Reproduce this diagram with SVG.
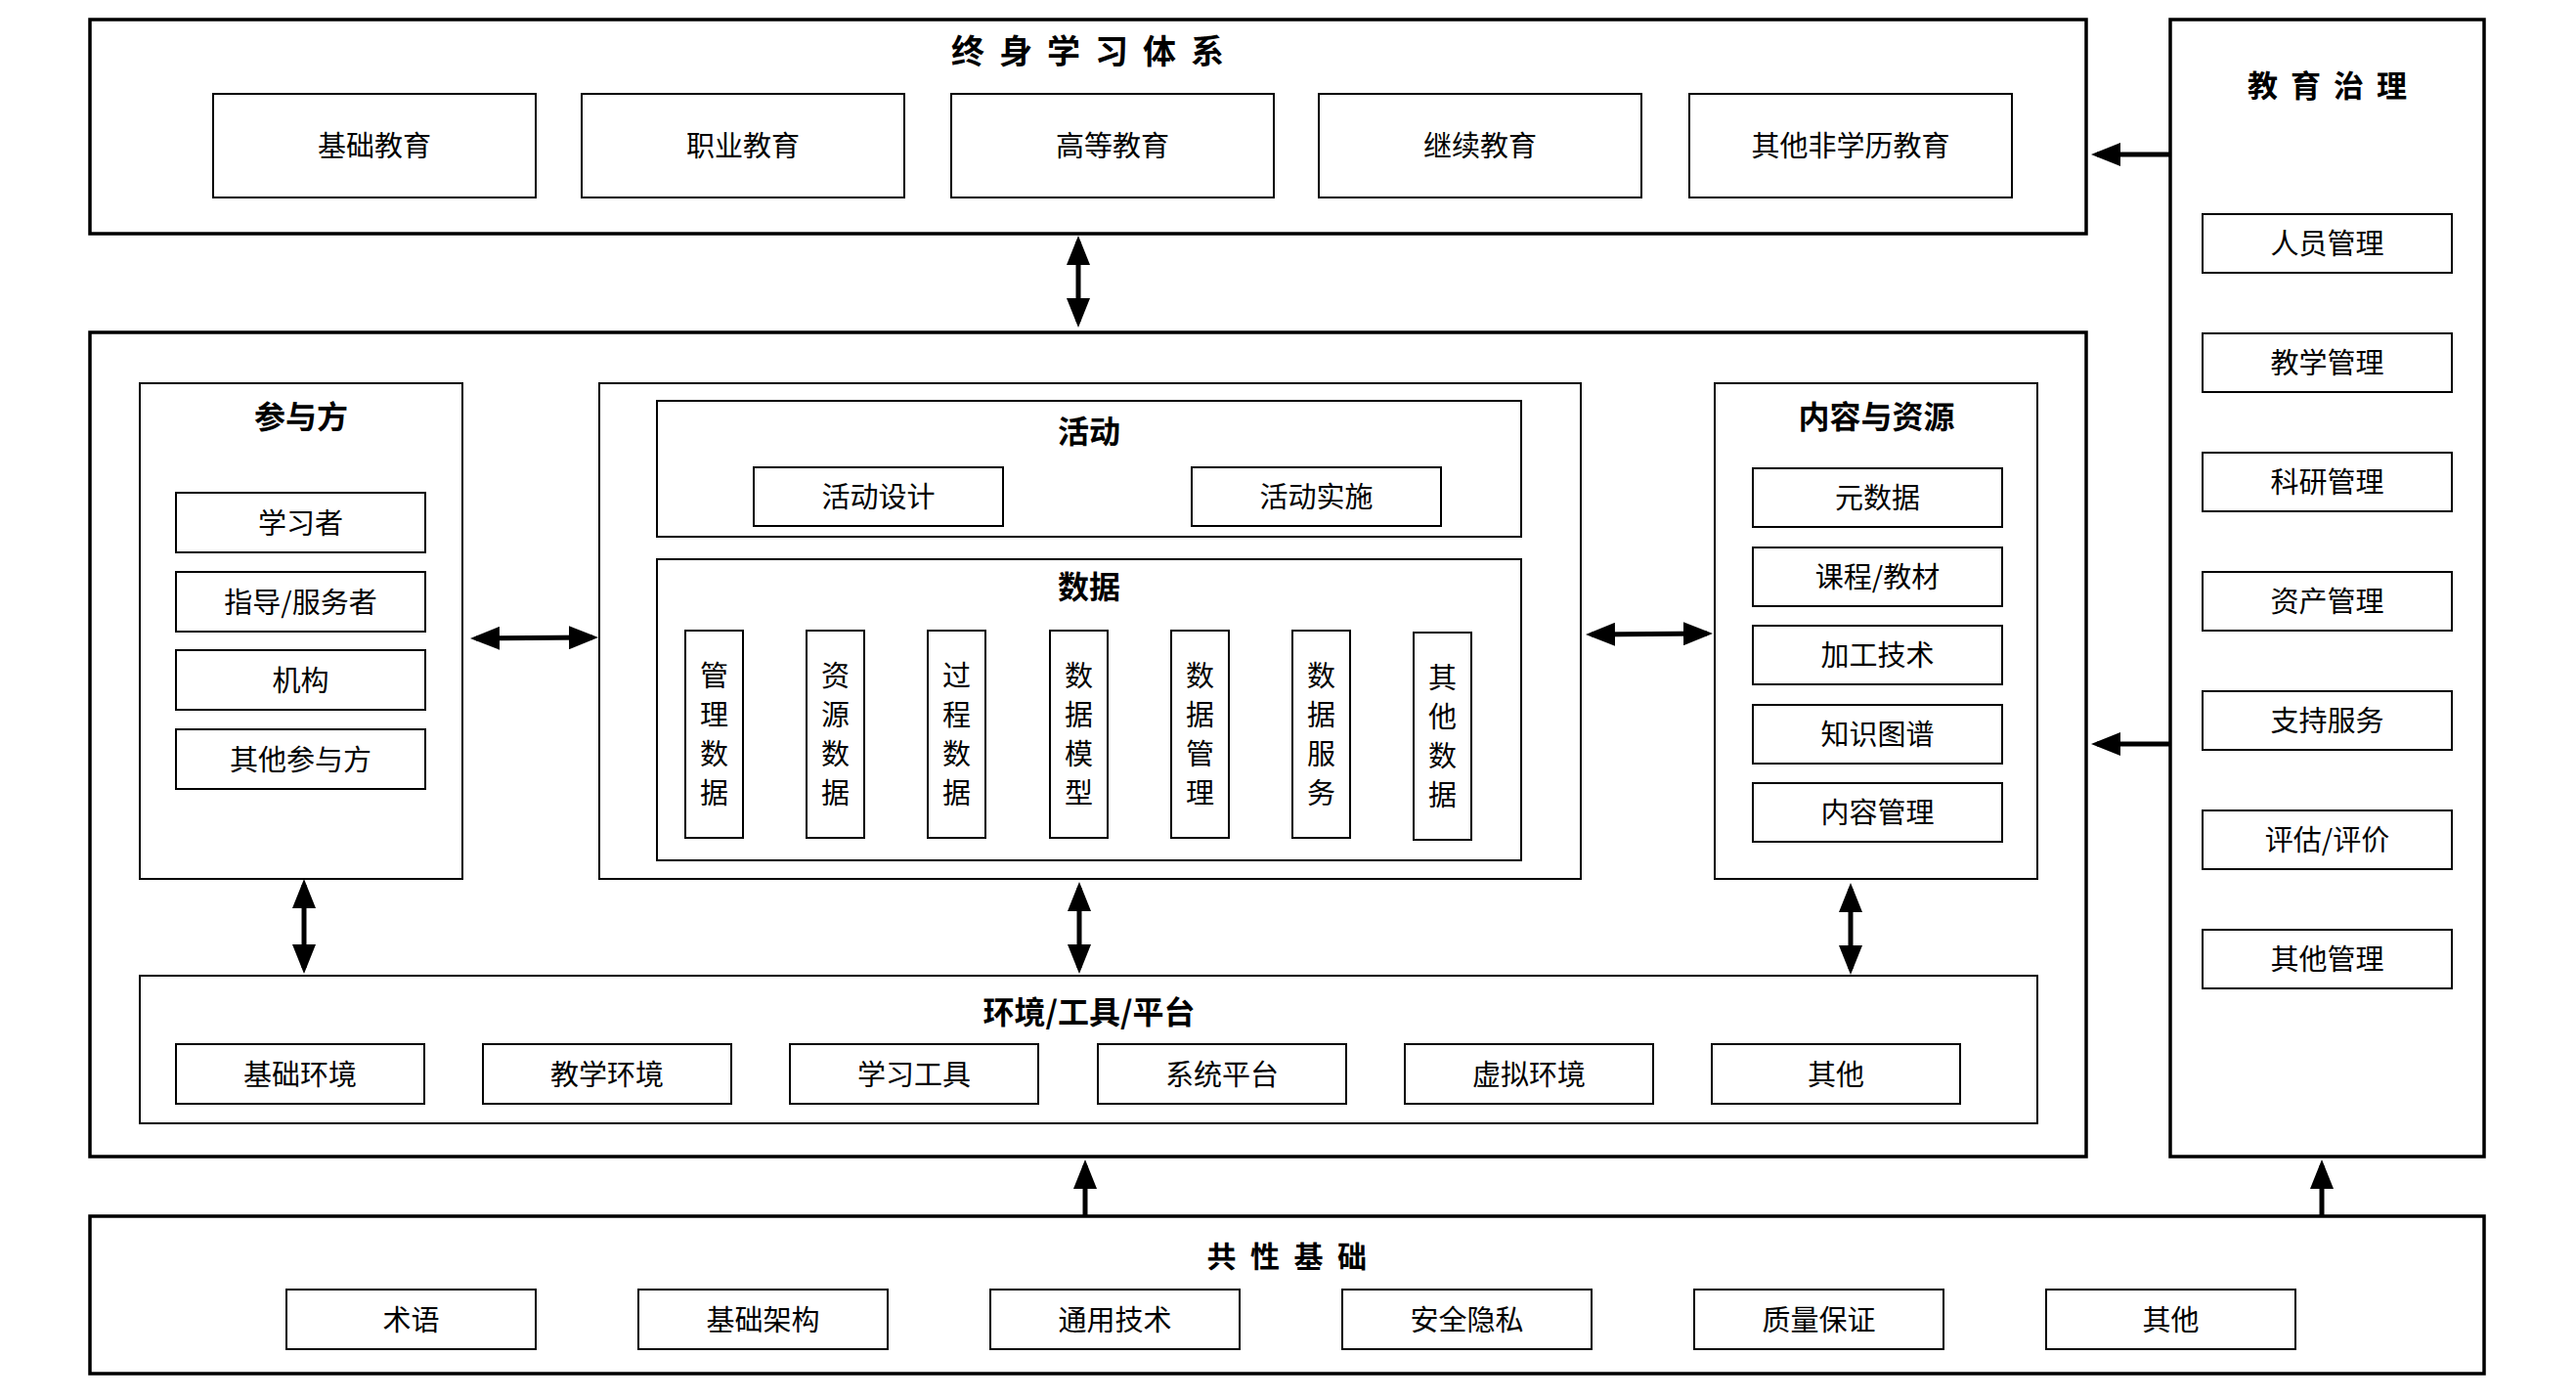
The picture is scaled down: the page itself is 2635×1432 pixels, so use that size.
<svg xmlns="http://www.w3.org/2000/svg" width="2635" height="1432" viewBox="0 0 2635 1432">
<defs>
<style>
.outer{fill:#fff;stroke:#000;stroke-width:3.5}
.panel{fill:#fff;stroke:#000;stroke-width:2}
.box{fill:#fff;stroke:#000;stroke-width:2}
.t{font-family:"Noto Sans CJK SC","Noto Sans",sans-serif;font-size:29px;text-anchor:middle;dominant-baseline:central;fill:#000;transform:translate(0px,-2px)}
.h{font-weight:bold;font-size:32px}
.conn line{stroke:#000;stroke-width:5}
</style>
<marker id="ah" markerUnits="userSpaceOnUse" markerWidth="30" markerHeight="24" refX="24" refY="12" orient="auto-start-reverse" viewBox="0 0 30 24">
<path d="M0,0 L30,12 L0,24 z" fill="#000"/>
</marker>
</defs>
<rect x="0" y="0" width="2635" height="1432" fill="#fff"/>

<g id="lifelong">
<rect class="outer" x="92" y="20" width="2042" height="219"/>
<text class="t h" x="1120" y="52" style="font-size:34px;letter-spacing:15px">终身学习体系</text>
<rect class="box" x="218" y="96" width="330" height="106"/><text class="t" x="383" y="149">基础教育</text>
<rect class="box" x="595" y="96" width="330" height="106"/><text class="t" x="760" y="149">职业教育</text>
<rect class="box" x="973" y="96" width="330" height="106"/><text class="t" x="1138" y="149">高等教育</text>
<rect class="box" x="1349" y="96" width="330" height="106"/><text class="t" x="1514" y="149">继续教育</text>
<rect class="box" x="1728" y="96" width="330" height="106"/><text class="t" x="1893" y="149">其他非学历教育</text>
</g>

<g id="governance">
<rect class="outer" x="2220" y="20" width="321" height="1163"/>
<text class="t h" x="2387" y="87" style="font-size:31px;letter-spacing:13px">教育治理</text>
<rect class="box" x="2253" y="219" width="255" height="60"/><text class="t" x="2380.5" y="249">人员管理</text>
<rect class="box" x="2253" y="341" width="255" height="60"/><text class="t" x="2380.5" y="371">教学管理</text>
<rect class="box" x="2253" y="463" width="255" height="60"/><text class="t" x="2380.5" y="493">科研管理</text>
<rect class="box" x="2253" y="585" width="255" height="60"/><text class="t" x="2380.5" y="615">资产管理</text>
<rect class="box" x="2253" y="707" width="255" height="60"/><text class="t" x="2380.5" y="737">支持服务</text>
<rect class="box" x="2253" y="829" width="255" height="60"/><text class="t" x="2380.5" y="859">评估/评价</text>
<rect class="box" x="2253" y="951" width="255" height="60"/><text class="t" x="2380.5" y="981">其他管理</text>
</g>

<g id="main">
<rect class="outer" x="92" y="340" width="2042" height="843"/>
</g>

<g id="participants">
<rect class="panel" x="143" y="392" width="330" height="507"/>
<text class="t h" x="308" y="426">参与方</text>
<rect class="box" x="180" y="504" width="255" height="61"/><text class="t" x="307.5" y="534.5">学习者</text>
<rect class="box" x="180" y="585" width="255" height="61"/><text class="t" x="307.5" y="615.5">指导/服务者</text>
<rect class="box" x="180" y="665" width="255" height="61"/><text class="t" x="307.5" y="695.5">机构</text>
<rect class="box" x="180" y="746" width="255" height="61"/><text class="t" x="307.5" y="776.5">其他参与方</text>
</g>

<g id="activity-data">
<rect class="panel" x="613" y="392" width="1004" height="507"/>
</g>

<g id="activity">
<rect class="box" x="672" y="410" width="884" height="139"/>
<text class="t h" x="1114" y="441">活动</text>
<rect class="box" x="771" y="478" width="255" height="60"/><text class="t" x="898.5" y="508">活动设计</text>
<rect class="box" x="1219" y="478" width="255" height="60"/><text class="t" x="1346.5" y="508">活动实施</text>
</g>

<g id="data">
<rect class="box" x="672" y="572" width="884" height="308"/>
<text class="t h" x="1114" y="600">数据</text>
<rect class="box" x="701" y="645" width="59" height="212"/>
<text class="t" x="730.5" y="691">管</text><text class="t" x="730.5" y="731">理</text><text class="t" x="730.5" y="771">数</text><text class="t" x="730.5" y="811">据</text>
<rect class="box" x="825" y="645" width="59" height="212"/>
<text class="t" x="854.5" y="691">资</text><text class="t" x="854.5" y="731">源</text><text class="t" x="854.5" y="771">数</text><text class="t" x="854.5" y="811">据</text>
<rect class="box" x="949" y="645" width="59" height="212"/>
<text class="t" x="978.5" y="691">过</text><text class="t" x="978.5" y="731">程</text><text class="t" x="978.5" y="771">数</text><text class="t" x="978.5" y="811">据</text>
<rect class="box" x="1074" y="645" width="59" height="212"/>
<text class="t" x="1103.5" y="691">数</text><text class="t" x="1103.5" y="731">据</text><text class="t" x="1103.5" y="771">模</text><text class="t" x="1103.5" y="811">型</text>
<rect class="box" x="1198" y="645" width="59" height="212"/>
<text class="t" x="1227.5" y="691">数</text><text class="t" x="1227.5" y="731">据</text><text class="t" x="1227.5" y="771">管</text><text class="t" x="1227.5" y="811">理</text>
<rect class="box" x="1322" y="645" width="59" height="212"/>
<text class="t" x="1351.5" y="691">数</text><text class="t" x="1351.5" y="731">据</text><text class="t" x="1351.5" y="771">服</text><text class="t" x="1351.5" y="811">务</text>
<rect class="box" x="1446" y="647" width="59" height="212"/>
<text class="t" x="1475.5" y="693">其</text><text class="t" x="1475.5" y="733">他</text><text class="t" x="1475.5" y="773">数</text><text class="t" x="1475.5" y="813">据</text>
</g>

<g id="content">
<rect class="panel" x="1754" y="392" width="330" height="507"/>
<text class="t h" x="1919.5" y="426">内容与资源</text>
<rect class="box" x="1793" y="479" width="255" height="60"/><text class="t" x="1920.5" y="509">元数据</text>
<rect class="box" x="1793" y="560" width="255" height="60"/><text class="t" x="1920.5" y="590">课程/教材</text>
<rect class="box" x="1793" y="640" width="255" height="60"/><text class="t" x="1920.5" y="670">加工技术</text>
<rect class="box" x="1793" y="721" width="255" height="60"/><text class="t" x="1920.5" y="751">知识图谱</text>
<rect class="box" x="1793" y="801" width="255" height="60"/><text class="t" x="1920.5" y="831">内容管理</text>
</g>

<g id="environment">
<rect class="panel" x="143" y="998" width="1941" height="151"/>
<text class="t h" x="1114" y="1035">环境/工具/平台</text>
<rect class="box" x="180" y="1068" width="254" height="61"/><text class="t" x="307" y="1098.5">基础环境</text>
<rect class="box" x="494" y="1068" width="254" height="61"/><text class="t" x="621" y="1098.5">教学环境</text>
<rect class="box" x="808" y="1068" width="254" height="61"/><text class="t" x="935" y="1098.5">学习工具</text>
<rect class="box" x="1123" y="1068" width="254" height="61"/><text class="t" x="1250" y="1098.5">系统平台</text>
<rect class="box" x="1437" y="1068" width="254" height="61"/><text class="t" x="1564" y="1098.5">虚拟环境</text>
<rect class="box" x="1751" y="1068" width="254" height="61"/><text class="t" x="1878" y="1098.5">其他</text>
</g>

<g id="foundation">
<rect class="outer" x="92" y="1244" width="2449" height="161"/>
<text class="t h" x="1323.5" y="1285" style="font-size:30px;letter-spacing:14.5px">共性基础</text>
<rect class="box" x="293" y="1319" width="255" height="61"/><text class="t" x="420.5" y="1349.5">术语</text>
<rect class="box" x="653" y="1319" width="255" height="61"/><text class="t" x="780.5" y="1349.5">基础架构</text>
<rect class="box" x="1013" y="1319" width="255" height="61"/><text class="t" x="1140.5" y="1349.5">通用技术</text>
<rect class="box" x="1373" y="1319" width="255" height="61"/><text class="t" x="1500.5" y="1349.5">安全隐私</text>
<rect class="box" x="1733" y="1319" width="255" height="61"/><text class="t" x="1860.5" y="1349.5">质量保证</text>
<rect class="box" x="2093" y="1319" width="255" height="61"/><text class="t" x="2220.5" y="1349.5">其他</text>
</g>

<g id="connectors" class="conn">
<line x1="1103" y1="247" x2="1103" y2="329" marker-start="url(#ah)" marker-end="url(#ah)"/>
<line x1="487" y1="653" x2="606" y2="652" marker-start="url(#ah)" marker-end="url(#ah)"/>
<line x1="1628" y1="649" x2="1746" y2="648" marker-start="url(#ah)" marker-end="url(#ah)"/>
<line x1="311" y1="905" x2="311" y2="990" marker-start="url(#ah)" marker-end="url(#ah)"/>
<line x1="1104" y1="908" x2="1104" y2="990" marker-start="url(#ah)" marker-end="url(#ah)"/>
<line x1="1893" y1="909" x2="1893" y2="991" marker-start="url(#ah)" marker-end="url(#ah)"/>
<line x1="2219" y1="158" x2="2145" y2="158" marker-end="url(#ah)"/>
<line x1="2219" y1="761" x2="2145" y2="761" marker-end="url(#ah)"/>
<line x1="1110" y1="1243" x2="1110" y2="1192" marker-end="url(#ah)"/>
<line x1="2375" y1="1243" x2="2375" y2="1192" marker-end="url(#ah)"/>
</g>
</svg>
